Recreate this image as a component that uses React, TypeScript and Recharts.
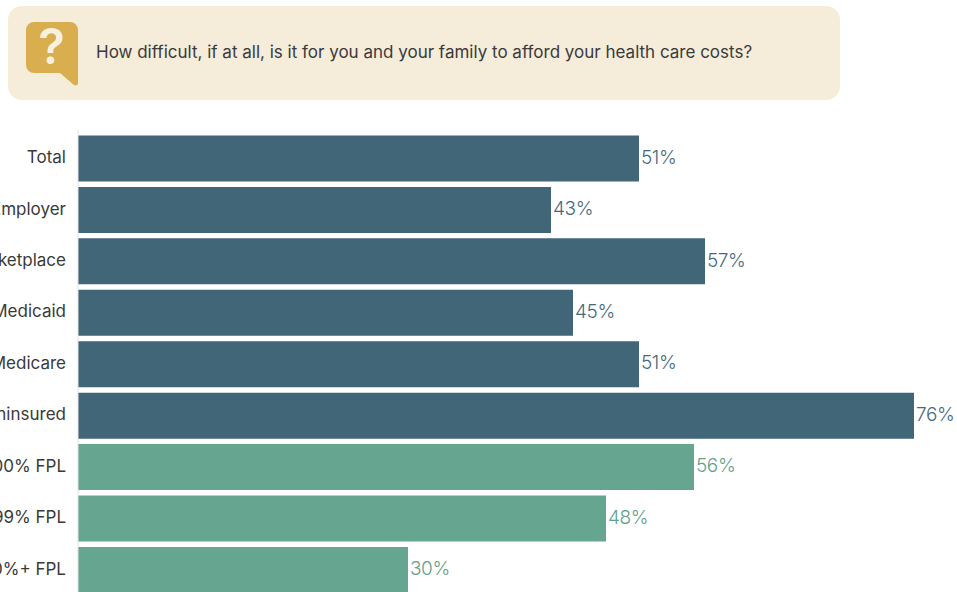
import { BarChart, Bar, XAxis, YAxis, Cell, LabelList } from "recharts";

const categories = [
  "Total",
  "Employer",
  "Marketplace",
  "Medicaid",
  "Medicare",
  "Uninsured",
  "<200% FPL",
  "200-399% FPL",
  "400%+ FPL",
];
const difficult = [51, 43, 57, 45, 51, 76, 56, 48, 30];
const groups = ["coverage", "coverage", "coverage", "coverage", "coverage", "coverage", "income", "income", "income"];

const question = "How difficult, if at all, is it for you and your family to afford your health care costs?";

const BAR_COLORS: Record<string, string> = { coverage: "#406678", income: "#66a58f" };
const LABEL_COLORS: Record<string, string> = { coverage: "#48697d", income: "#5fa189" };
const FONT = "Inter, sans-serif";

const rows = categories.map((name, i) => ({ name, value: difficult[i], group: groups[i] }));

function ValueLabel({ x, y, width, height, value, index }: any) {
  return (
    <text
      x={x + width + 2}
      y={y + height / 2 - 1.5}
      dy="0.35em"
      fill={LABEL_COLORS[groups[index]]}
      fontFamily={FONT}
      fontSize={19}
      fontWeight={300}
      letterSpacing={-0.4}
    >
      {value}%
    </text>
  );
}

// plain tick so long names stay on one line
function CategoryTick({ x, y, payload }: any) {
  return (
    <text x={x} y={y - 1} dy="0.35em" textAnchor="end" fill="#3a3a3a" fontFamily={FONT} fontSize={17}>
      {payload.value}
    </text>
  );
}

function QuestionIcon() {
  return (
    <svg width={52} height={64} viewBox="0 0 52 64" style={{ position: "absolute", left: 26, top: 22 }}>
      <path
        d="M8 0H44a8 8 0 0 1 8 8V61c0 2-2 3-4 2L34 51H8a8 8 0 0 1-8-8V8a8 8 0 0 1 8-8Z"
        fill="#d9ae4e"
      />
      <text x={25.5} y={42} textAnchor="middle" fill="#f8f1e2" fontFamily={FONT} fontSize={49} fontWeight={600}>
        ?
      </text>
    </svg>
  );
}

export default function App() {
  return (
    <div style={{ position: "fixed", left: 0, top: 0, width: 957, height: 592, overflow: "hidden", background: "#fff" }}>
      <div
        style={{
          position: "absolute",
          left: 8,
          top: 6,
          width: 832,
          height: 94,
          borderRadius: 14,
          background: "#f5ecda",
        }}
      />
      <QuestionIcon />
      <div
        style={{
          position: "absolute",
          left: 96,
          top: 40,
          lineHeight: "24px",
          fontFamily: FONT,
          fontSize: 17,
          color: "#3a3a3a",
          whiteSpace: "nowrap",
        }}
      >
        {question}
      </div>
      <div style={{ position: "absolute", left: 0, top: 0 }}>
        <BarChart
          width={958}
          height={600}
          data={rows}
          layout="vertical"
          margin={{ top: 130, right: 0, bottom: 4.6, left: 0 }}
          barCategoryGap={5}
        >
          <XAxis type="number" domain={[0, 80]} hide />
          <YAxis
            type="category"
            dataKey="name"
            width={78}
            padding={{ top: 2.5, bottom: 0 }}
            axisLine={{ stroke: "#e3e3e3" }}
            tickLine={false}
            tickSize={0}
            tickMargin={12}
            interval={0}
            tick={CategoryTick}
          />
          <Bar dataKey="value" barSize={46} isAnimationActive={false}>
            {rows.map((row) => (
              <Cell key={row.name} fill={BAR_COLORS[row.group]} />
            ))}
            <LabelList dataKey="value" content={ValueLabel} />
          </Bar>
        </BarChart>
      </div>
    </div>
  );
}
